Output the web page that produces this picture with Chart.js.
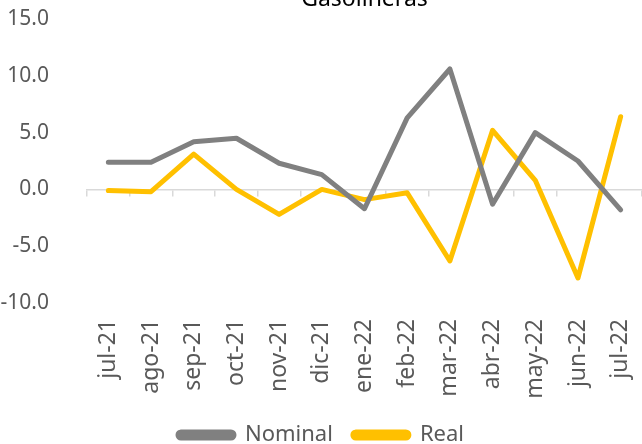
<!DOCTYPE html>
<html>
<head>
<meta charset="utf-8">
<script src="https://cdn.jsdelivr.net/npm/chart.js@4/dist/chart.umd.min.js"></script>
<style>
  html,body{margin:0;padding:0;background:#fff}
  #wrap{width:642px;height:444px}
</style>
</head>
<body>
<div id="wrap"><canvas id="chart" width="642" height="444"></canvas></div>
<script>
const months = ['jul-21','ago-21','sep-21','oct-21','nov-21','dic-21','ene-22','feb-22','mar-22','abr-22','may-22','jun-22','jul-22'];
const nominal = [2.4, 2.4, 4.2, 4.5, 2.3, 1.3, -1.7, 6.3, 10.6, -1.3, 5.0, 2.5, -1.8];
const real = [-0.1, -0.2, 3.1, 0.0, -2.2, 0.0, -0.9, -0.3, -6.3, 5.2, 0.8, -7.8, 6.4];
const yTicks = [-10, -5, 0, 5, 10, 15];
const titleText = 'Gasolineras';

const FONT = '"Noto Sans", sans-serif';
const TXT = '#595959';

// title centred on the plot area, partly cut by the top edge
const titlePlugin = {
  id: 'areaTitle',
  afterDraw(chart){
    const {ctx, chartArea} = chart;
    ctx.save();
    ctx.font = '23px ' + FONT;
    ctx.fillStyle = '#000';
    ctx.textAlign = 'center';
    ctx.textBaseline = 'alphabetic';
    ctx.fillText(titleText, (chartArea.left + chartArea.right) / 2, 6);
    ctx.restore();
  }
};

function noPad(s){ s.paddingLeft = 0; s.paddingRight = 0; s.paddingTop = 0; s.paddingBottom = 0; }

new Chart(document.getElementById('chart').getContext('2d'), {
  type: 'line',
  data: {
    labels: months,
    datasets: [
      {label:'Nominal', data:nominal, borderColor:'#808080', backgroundColor:'#808080', borderWidth:5, pointRadius:0, tension:0, borderJoinStyle:'round', borderCapStyle:'round', xAxisID:'x'},
      {label:'Real', data:real, borderColor:'#FFC000', backgroundColor:'#FFC000', borderWidth:5, pointRadius:0, tension:0, borderJoinStyle:'round', borderCapStyle:'round', xAxisID:'x'}
    ]
  },
  options: {
    responsive: false,
    animation: false,
    layout: {padding:{top:19, right:0, bottom:-12, left:0}},
    plugins: {
      legend: {
        position: 'bottom',
        labels: {boxWidth:56, boxHeight:6, useBorderRadius:true, borderRadius:3, color:TXT, font:{family:FONT, size:22}, padding:20}
      },
      tooltip: {enabled:false}
    },
    scales: {
      x: {
        offset: true,
        grid: {display:false},
        border: {display:false},
        ticks: {color:TXT, font:{family:FONT, size:23}, minRotation:90, maxRotation:90, padding:8},
        afterFit(s){ noPad(s); s.height = 101; }
      },
      x2: {
        type: 'category',
        position: {y: 0},
        offset: true,
        grid: {offset:true, drawOnChartArea:false, drawTicks:true, tickLength:6, color:'#d9d9d9', lineWidth:1.5},
        border: {display:true, color:'#d9d9d9', width:1.5},
        ticks: {display:false},
        afterFit: noPad
      },
      y: {
        min: -10,
        max: 15,
        afterBuildTicks(axis){ axis.ticks = yTicks.map(v => ({value:v})); },
        grid: {display:false},
        border: {display:false},
        ticks: {color:TXT, font:{family:FONT, size:21}, padding:30, callback: v => v.toFixed(1)},
        afterFit(s){ noPad(s); s.width = 87; }
      }
    }
  },
  plugins: [titlePlugin]
});
</script>
</body>
</html>
